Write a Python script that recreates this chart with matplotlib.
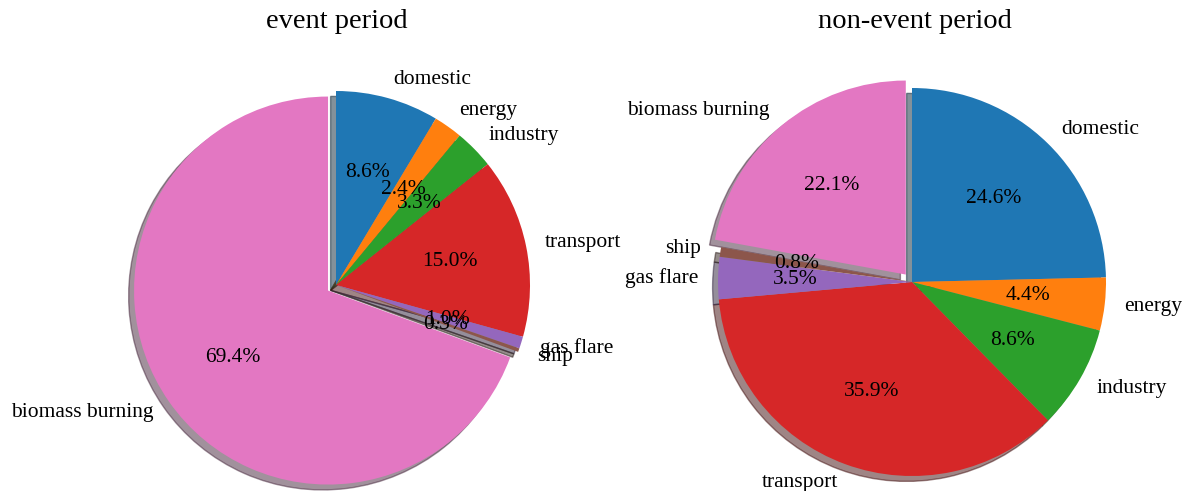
import numpy as np
import matplotlib
matplotlib.use("Agg")
import matplotlib.pyplot as plt

plt.rcParams['font.family'] = ['Liberation Serif', 'DejaVu Serif']

sources = ["domestic", "energy", "industry", "transport", "gas flare", "ship", "biomass burning"]
event_pct = [8.6, 2.4, 3.3, 15.0, 1.0, 0.3, 69.4]
nonevent_pct = [24.6, 4.4, 8.6, 35.9, 3.5, 0.8, 22.1]
titles = ["event period", "non-event period"]

colors = ['tab:blue', 'tab:orange', 'tab:green', 'tab:red', 'tab:purple', 'tab:brown', 'tab:pink']
explode = [0, 0, 0, 0, 0, 0, 0.05]

W, H = 1190, 491
fig = plt.figure(figsize=(W / 100, H / 100), dpi=100)

r = 194            # pie radius in pixels
S = 2.5 * r        # axes side (pie uses +-1.25 limits)
centers = [(336, 285), (912, 282)]
title_x = [337, 915]

for i, vals in enumerate([event_pct, nonevent_pct]):
    cx, cy = centers[i]
    ax = fig.add_axes([(cx - S / 2) / W, (H - cy - S / 2) / H, S / W, S / H])
    ax.pie(vals, labels=sources, colors=colors, explode=explode, autopct='%1.1f%%',
           shadow=True, startangle=90, counterclock=False,
           textprops={'fontsize': 15.5})
    fig.text(title_x[i] / W, 1 - 22 / H, titles[i], ha='center', va='center', fontsize=20.5)

plt.savefig("out.png", dpi=100)
